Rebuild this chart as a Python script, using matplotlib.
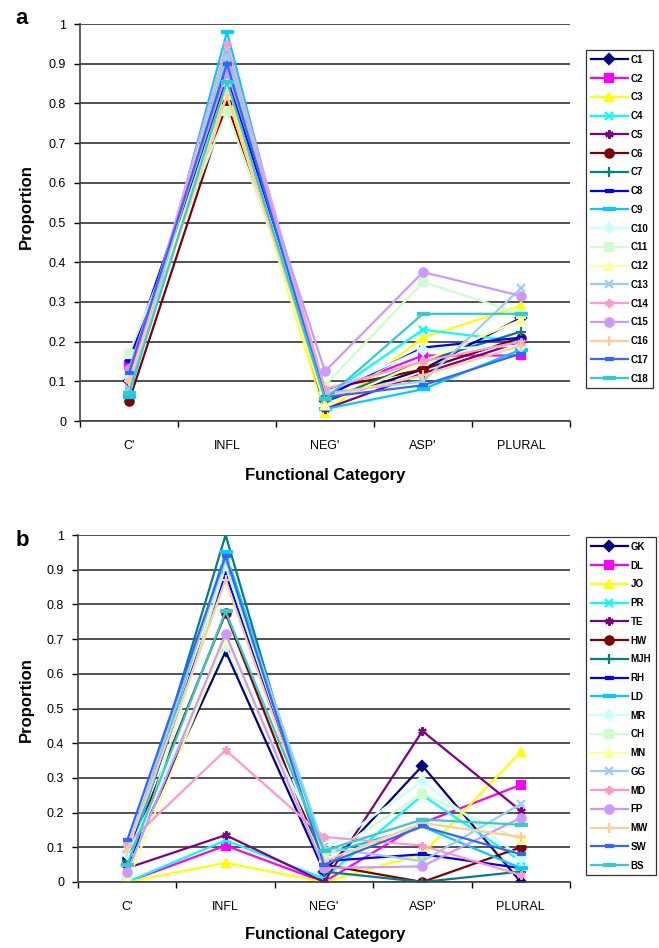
import matplotlib
matplotlib.use("Agg")
import matplotlib.pyplot as plt
import numpy as np

plt.rcParams['font.family'] = ['Liberation Sans', 'DejaVu Sans']

# categories on the x axis
cats = ["C'", "INFL", "NEG'", "ASP'", "PLURAL"]

# panel a: series C1..C18, one array per category
a_names = ["C1", "C2", "C3", "C4", "C5", "C6", "C7", "C8", "C9",
           "C10", "C11", "C12", "C13", "C14", "C15", "C16", "C17", "C18"]
a_cprime = [0.10, 0.14, 0.12, 0.07, 0.09, 0.05, 0.10, 0.15, 0.06,
            0.11, 0.17, 0.13, 0.08, 0.10, 0.13, 0.10, 0.12, 0.07]
a_infl = [0.88, 0.83, 0.84, 0.93, 0.90, 0.80, 0.86, 0.87, 0.98,
          0.85, 0.78, 0.82, 0.92, 0.95, 0.88, 0.82, 0.90, 0.855]
a_neg = [0.05, 0.07, 0.02, 0.06, 0.03, 0.08, 0.05, 0.06, 0.03,
         0.07, 0.09, 0.04, 0.07, 0.08, 0.125, 0.06, 0.06, 0.055]
a_asp = [0.13, 0.165, 0.21, 0.23, 0.12, 0.13, 0.15, 0.185, 0.08,
         0.18, 0.35, 0.15, 0.10, 0.15, 0.375, 0.115, 0.09, 0.27]
a_plural = [0.26, 0.165, 0.29, 0.20, 0.20, 0.21, 0.225, 0.21, 0.18,
            0.19, 0.27, 0.255, 0.335, 0.20, 0.315, 0.19, 0.17, 0.27]

# panel b: series by speaker
b_names = ["GK", "DL", "JO", "PR", "TE", "HW", "MJH", "RH", "LD",
           "MR", "CH", "MN", "GG", "MD", "FP", "MW", "SW", "BS"]
b_cprime = [0.05, 0.0, 0.0, 0.0, 0.04, 0.07, 0.06, 0.07, 0.05,
            0.08, 0.0, 0.0, 0.095, 0.11, 0.03, 0.09, 0.12, 0.05]
b_infl = [0.665, 0.105, 0.055, 0.12, 0.135, 0.775, 1.0, 0.89, 0.95,
          0.68, 0.91, 0.70, 0.93, 0.38, 0.715, 0.87, 0.94, 0.78]
b_neg = [0.03, 0.0, 0.0, 0.01, 0.0, 0.05, 0.03, 0.06, 0.08,
         0.09, 0.07, 0.05, 0.10, 0.13, 0.04, 0.06, 0.05, 0.09]
b_asp = [0.335, 0.17, 0.08, 0.25, 0.435, 0.0, 0.0, 0.08, 0.16,
         0.29, 0.255, 0.17, 0.06, 0.105, 0.045, 0.17, 0.16, 0.18]
b_plural = [0.0, 0.28, 0.375, 0.06, 0.205, 0.10, 0.03, 0.04, 0.04,
            0.07, 0.12, 0.13, 0.225, 0.02, 0.185, 0.13, 0.08, 0.165]

# Excel-style series colours and markers
colors = ['#000080', '#FF00FF', '#FFFF00', '#00FFFF', '#800080', '#800000',
          '#008080', '#0000FF', '#00CCFF', '#CCFFFF', '#CCFFCC', '#FFFF99',
          '#99CCFF', '#FF99CC', '#CC99FF', '#FFCC99', '#3366FF', '#33CCCC']
short_bar = [(-1, -0.35), (1, -0.35), (1, 0.35), (-1, 0.35)]
long_bar = [(-1, -0.22), (1, -0.22), (1, 0.22), (-1, 0.22)]
markers = ['D', 's', '^', 'x', (6, 2, 0), 'o', '+', short_bar, long_bar,
           'D', 's', '^', 'x', (6, 2, 0), 'o', '+', short_bar, long_bar]
msizes = [5, 6, 6, 6, 6, 6, 7, 6, 9, 5, 6, 6, 6, 6, 6, 7, 6, 9]

fig = plt.figure(figsize=(6.59, 9.48), dpi=100)
W, H = 659, 948


def panel(rect, names, cols, leg_top, letter, letter_y, xlab_y, ylab_y):
    ax = fig.add_axes(rect)
    vals = np.array(cols).T
    x = np.arange(len(cats))
    for i, name in enumerate(names):
        ax.plot(x, vals[i], color=colors[i], marker=markers[i], ms=msizes[i],
                mew=1.6, lw=1.6, label=name)
    ax.set_xlim(-0.5, 4.5)
    ax.set_ylim(0, 1)
    ax.set_yticks(np.arange(0, 1.01, 0.1))
    ax.set_yticklabels(["0", "0.1", "0.2", "0.3", "0.4", "0.5", "0.6",
                        "0.7", "0.8", "0.9", "1"])
    ax.yaxis.grid(True, color='#222222', lw=1.1)
    ax.set_axisbelow(True)
    ax.set_xticks(np.arange(-0.5, 4.6, 1.0))
    ax.set_xticklabels([])
    ax.set_xticks(x, minor=True)
    ax.set_xticklabels(cats, minor=True)
    ax.tick_params(axis='x', which='minor', length=0, pad=14, labelsize=9)
    ax.tick_params(axis='x', which='major', length=4, width=1)
    ax.tick_params(axis='y', length=4, width=1, pad=6, labelsize=9)
    for s in ['top', 'right']:
        ax.spines[s].set_visible(False)
    for s in ['left', 'bottom']:
        ax.spines[s].set_color('#444444')
        ax.spines[s].set_linewidth(1.2)
    leg = ax.legend(loc='upper left', bbox_to_anchor=(586 / W, 1 - leg_top / H),
                    bbox_transform=fig.transFigure, frameon=True, fancybox=False,
                    edgecolor='black', prop={'size': 7, 'weight': 'bold'},
                    handlelength=3.8, handletextpad=0.3, labelspacing=0.9,
                    borderpad=0.5, borderaxespad=0)
    leg.get_frame().set_linewidth(0.9)
    fig.text(22 / W, 1 - letter_y / H, letter, fontsize=16, fontweight='bold',
             ha='center', va='center')
    fig.text(325 / W, 1 - xlab_y / H, "Functional Category", fontsize=12,
             fontweight='bold', ha='center', va='center')
    fig.text(26 / W, 1 - ylab_y / H, "Proportion", fontsize=12,
             fontweight='bold', ha='center', va='center', rotation=90)
    return ax


panel([80 / W, 1 - 421 / H, 490 / W, 397 / H], a_names,
      [a_cprime, a_infl, a_neg, a_asp, a_plural], 50, "a", 19, 475, 207)
panel([78 / W, 1 - 882 / H, 492 / W, 347 / H], b_names,
      [b_cprime, b_infl, b_neg, b_asp, b_plural], 537, "b", 540, 935, 700)

fig.savefig("out.png", dpi=100)
